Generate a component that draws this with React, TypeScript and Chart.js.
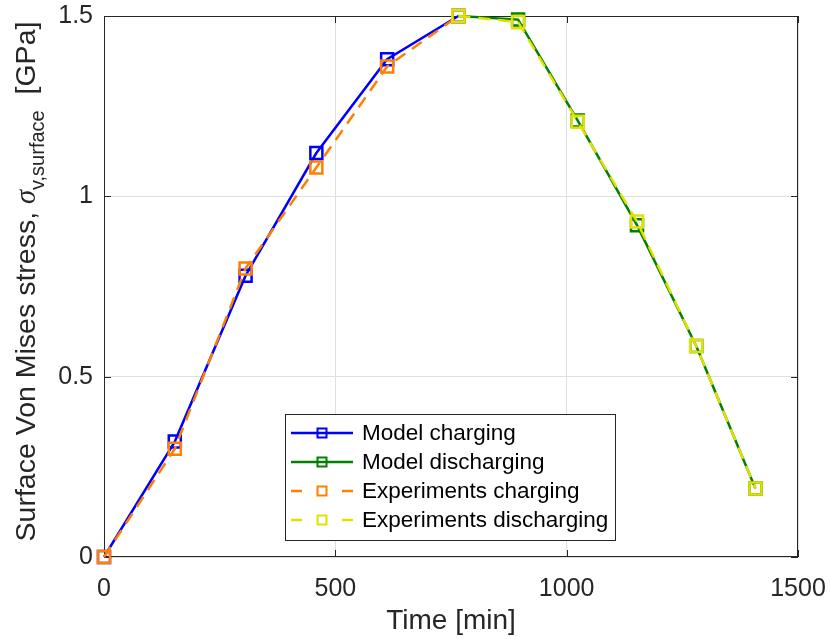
import React, { useEffect, useRef } from "react";
import { Chart, registerables } from "chart.js";

Chart.register(...registerables);

// ---- data ----
const timeCharging = [0, 153, 306, 459, 612, 766];
const timeDischarging = [766, 895, 1024, 1152, 1280, 1408];
const modelCharging = [0, 0.32, 0.78, 1.12, 1.38, 1.5];
const expCharging = [0, 0.3, 0.8, 1.08, 1.36, 1.5];
const modelDischarging = [1.5, 1.49, 1.21, 0.92, 0.585, 0.19];
const expDischarging = [1.5, 1.483, 1.207, 0.93, 0.585, 0.19];
const xTicks = [0, 500, 1000, 1500];
const yTicks = [0, 0.5, 1, 1.5];
const seriesNames = ["Model charging", "Model discharging", "Experiments charging", "Experiments discharging"];
const seriesColors = ["#0000ff", "#008000", "#ff8000", "#e1e100"];
const xTitle = "Time [min]";
const yTitleParts = ["Surface Von Mises stress, ", "\u03c3", "v,surface", "  [GPa]"];

const SANS = "'Liberation Sans', Arial, Helvetica, sans-serif";
const AXIS = "#262626";
const DASH = [12, 8];

const pts = (xs: number[], ys: number[]) => xs.map((x, i) => ({ x, y: ys[i] }));

const decorPlugin = {
  id: "decor",
  beforeDatasetsDraw(chart: any) {
    const ctx = chart.ctx;
    const { left, right, top, bottom } = chart.chartArea;
    const xs = chart.scales.x;
    const ys = chart.scales.y;
    ctx.save();
    ctx.strokeStyle = AXIS;
    ctx.lineWidth = 1;
    ctx.strokeRect(left + 0.5, top + 0.5, right - left - 1, bottom - top - 1);
    const tl = 7;
    ctx.beginPath();
    xTicks.forEach((v) => {
      const p = Math.round(xs.getPixelForValue(v)) + 0.5;
      ctx.moveTo(p, bottom);
      ctx.lineTo(p, bottom - tl);
      ctx.moveTo(p, top);
      ctx.lineTo(p, top + tl);
    });
    yTicks.forEach((v) => {
      const p = Math.round(ys.getPixelForValue(v)) + 0.5;
      ctx.moveTo(left, p);
      ctx.lineTo(left + tl, p);
      ctx.moveTo(right, p);
      ctx.lineTo(right - tl, p);
    });
    ctx.stroke();
    ctx.restore();
  },
  afterDatasetsDraw(chart: any) {
    const ctx = chart.ctx;
    // legend
    const lx = 285, ly = 414, lw = 330, lh = 126;
    ctx.save();
    ctx.fillStyle = "#ffffff";
    ctx.fillRect(lx, ly, lw, lh);
    ctx.strokeStyle = AXIS;
    ctx.lineWidth = 1;
    ctx.strokeRect(lx + 0.5, ly + 0.5, lw, lh);
    const rowY0 = 433, dy = 29;
    seriesNames.forEach((name, i) => {
      const y = rowY0 + i * dy;
      const c = seriesColors[i];
      ctx.strokeStyle = c;
      ctx.lineWidth = 2.5;
      ctx.setLineDash([]);
      ctx.beginPath();
      if (i < 2) {
        ctx.moveTo(291, y);
        ctx.lineTo(353, y);
      } else {
        ctx.moveTo(291, y);
        ctx.lineTo(302, y);
        ctx.moveTo(342, y);
        ctx.lineTo(353, y);
      }
      ctx.stroke();
      ctx.lineWidth = 2;
      ctx.strokeRect(322 - 4.5, y - 4.5, 9, 9);
      ctx.fillStyle = "#000000";
      ctx.font = "22.5px " + SANS;
      ctx.textAlign = "left";
      ctx.textBaseline = "middle";
      ctx.fillText(name, 362, y + 1);
    });
    ctx.restore();
  },
  afterDraw(chart: any) {
    const ctx = chart.ctx;
    const { top, bottom } = chart.chartArea;
    const cy = (top + bottom) / 2 - 5;
    const fonts = [
      "28.5px " + SANS,
      "italic 28.5px 'Liberation Serif', 'DejaVu Serif', serif",
      "20px " + SANS,
      "28.5px " + SANS,
    ];
    const offs = [0, 0, 9, 0];
    ctx.save();
    ctx.fillStyle = "#262626";
    ctx.textBaseline = "alphabetic";
    ctx.textAlign = "left";
    let total = 0;
    const widths = yTitleParts.map((t, i) => {
      ctx.font = fonts[i];
      const w = ctx.measureText(t).width;
      total += w;
      return w;
    });
    ctx.translate(35, cy);
    ctx.rotate(-Math.PI / 2);
    let x = -total / 2;
    yTitleParts.forEach((t, i) => {
      ctx.font = fonts[i];
      ctx.fillText(t, x, offs[i]);
      x += widths[i];
    });
    ctx.restore();
  },
};

export default function App() {
  const ref = useRef<HTMLCanvasElement | null>(null);
  useEffect(() => {
    if (!ref.current) return;
    const mk = (i: number, xs: number[], ys: number[], dashed: boolean, order: number) => ({
      label: seriesNames[i],
      data: pts(xs, ys),
      borderColor: seriesColors[i],
      backgroundColor: "rgba(0,0,0,0)",
      borderWidth: 2.5,
      borderDash: dashed ? DASH : [],
      pointStyle: "rect",
      pointRadius: 8.5,
      pointBorderWidth: 2.5,
      pointBorderColor: seriesColors[i],
      pointBackgroundColor: "rgba(0,0,0,0)",
      pointHoverRadius: 8.5,
      tension: 0,
      fill: false,
      clip: false,
      order,
    });
    const chart = new Chart(ref.current, {
      type: "line",
      data: {
        datasets: [
          mk(0, timeCharging, modelCharging, false, 4),
          mk(1, timeDischarging, modelDischarging, false, 3),
          mk(2, timeCharging, expCharging, true, 2),
          mk(3, timeDischarging, expDischarging, true, 1),
        ],
      },
      options: {
        animation: false,
        responsive: false,
        maintainAspectRatio: false,
        events: [],
        layout: { padding: { left: 0, top: 16, right: 32, bottom: 0 } },
        plugins: { legend: { display: false }, tooltip: { enabled: false }, title: { display: false } },
        scales: {
          x: {
            type: "linear",
            min: 0,
            max: 1500,
            afterFit: (s: any) => {
              s.height = 82;
              s.paddingLeft = 0;
              s.paddingRight = 0;
            },
            afterBuildTicks: (s: any) => {
              s.ticks = xTicks.map((v) => ({ value: v }));
            },
            ticks: {
              color: AXIS,
              font: { family: SANS, size: 25 },
              padding: 17,
              maxRotation: 0,
              callback: (v: any) => String(v),
            },
            grid: { color: "#dfdfdf", lineWidth: 1, drawTicks: false },
            border: { display: false },
            title: {
              display: true,
              text: xTitle,
              color: AXIS,
              font: { family: SANS, size: 28 },
              padding: { top: 0, bottom: 1 },
            },
          },
          y: {
            type: "linear",
            min: 0,
            max: 1.5,
            afterFit: (s: any) => {
              s.width = 104;
              s.paddingTop = 0;
              s.paddingBottom = 0;
            },
            afterBuildTicks: (s: any) => {
              s.ticks = yTicks.map((v) => ({ value: v }));
            },
            ticks: {
              color: AXIS,
              font: { family: SANS, size: 25 },
              padding: 11,
              callback: (v: any) => String(v),
            },
            grid: { color: "#dfdfdf", lineWidth: 1, drawTicks: false },
            border: { display: false },
            title: { display: false },
          },
        },
      },
      plugins: [decorPlugin],
    } as any);
    return () => chart.destroy();
  }, []);
  return (
    <div style={{ position: "absolute", left: 0, top: 0, width: 830, height: 639, background: "#fff" }}>
      <canvas ref={ref} width={830} height={639} style={{ width: 830, height: 639, display: "block" }} />
    </div>
  );
}
